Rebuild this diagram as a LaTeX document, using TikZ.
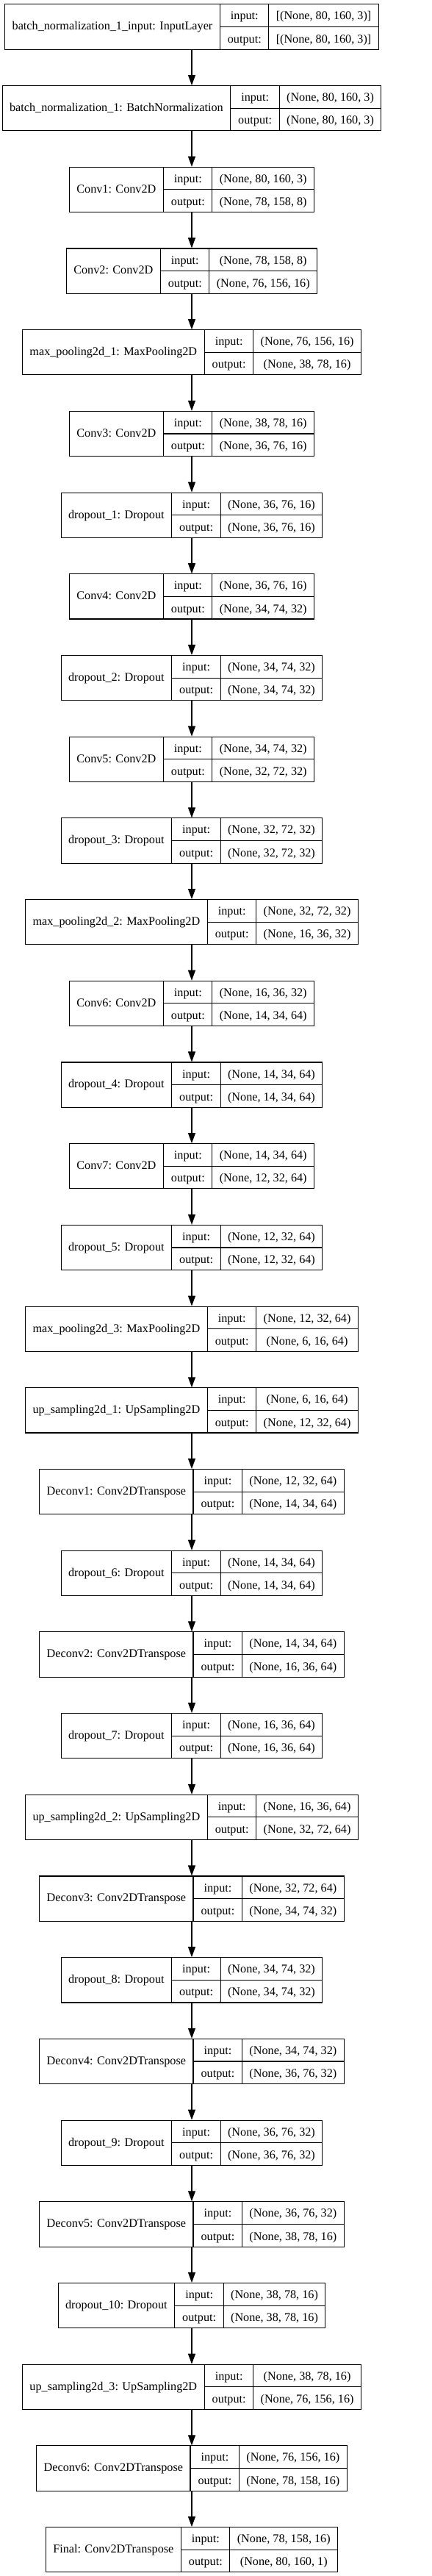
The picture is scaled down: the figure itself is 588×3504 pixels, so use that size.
\documentclass[tikz,border=0pt]{standalone}
\usepackage{fontspec}
\setmainfont{Liberation Serif}
\usetikzlibrary{arrows.meta}
\setlength{\tabcolsep}{10pt}
\setlength{\arrayrulewidth}{1.1pt}
\renewcommand{\arraystretch}{1.55}
% one keras layer: name | input/output | shapes
\newcommand{\layerrec}[3]{\begin{tabular}{c|@{}c@{}}#1 & \begin{tabular}{c|c}input: & #2\\\hline output: & #3\end{tabular}\end{tabular}}
\tikzset{
  rec/.style={draw, inner sep=0pt, line width=1.1pt, font=\fontsize{16.2}{19.4}\selectfont},
  flow/.style={-{Triangle[length=14pt,width=10pt]}, line width=1.1pt}
}
\begin{document}
\begin{tikzpicture}[x=1pt, y=-1pt]
      \useasboundingbox (0,0) rectangle (588,3504);

      \node[rec] (bninput) at (261, 36.5){\layerrec{batch\_normalization\_1\_input: InputLayer}{[(None, 80, 160, 3)]}{[(None, 80, 160, 3)]}};
      \node[rec] (bn) at (261, 147.2){\layerrec{batch\_normalization\_1: BatchNormalization}{(None, 80, 160, 3)}{(None, 80, 160, 3)}};
      \node[rec] (conv1) at (261, 257.9){\layerrec{Conv1: Conv2D}{(None, 80, 160, 3)}{(None, 78, 158, 8)}};
      \node[rec] (conv2) at (261, 368.6){\layerrec{Conv2: Conv2D}{(None, 78, 158, 8)}{(None, 76, 156, 16)}};
      \node[rec] (pool1) at (261, 479.3){\layerrec{max\_pooling2d\_1: MaxPooling2D}{(None, 76, 156, 16)}{(None, 38, 78, 16)}};
      \node[rec] (conv3) at (261, 590.0){\layerrec{Conv3: Conv2D}{(None, 38, 78, 16)}{(None, 36, 76, 16)}};
      \node[rec] (drop1) at (261, 700.7){\layerrec{dropout\_1: Dropout}{(None, 36, 76, 16)}{(None, 36, 76, 16)}};
      \node[rec] (conv4) at (261, 811.4){\layerrec{Conv4: Conv2D}{(None, 36, 76, 16)}{(None, 34, 74, 32)}};
      \node[rec] (drop2) at (261, 922.1){\layerrec{dropout\_2: Dropout}{(None, 34, 74, 32)}{(None, 34, 74, 32)}};
      \node[rec] (conv5) at (261, 1032.8){\layerrec{Conv5: Conv2D}{(None, 34, 74, 32)}{(None, 32, 72, 32)}};
      \node[rec] (drop3) at (261, 1143.5){\layerrec{dropout\_3: Dropout}{(None, 32, 72, 32)}{(None, 32, 72, 32)}};
      \node[rec] (pool2) at (261, 1254.2){\layerrec{max\_pooling2d\_2: MaxPooling2D}{(None, 32, 72, 32)}{(None, 16, 36, 32)}};
      \node[rec] (conv6) at (261, 1364.9){\layerrec{Conv6: Conv2D}{(None, 16, 36, 32)}{(None, 14, 34, 64)}};
      \node[rec] (drop4) at (261, 1475.6){\layerrec{dropout\_4: Dropout}{(None, 14, 34, 64)}{(None, 14, 34, 64)}};
      \node[rec] (conv7) at (261, 1586.3){\layerrec{Conv7: Conv2D}{(None, 14, 34, 64)}{(None, 12, 32, 64)}};
      \node[rec] (drop5) at (261, 1697.0){\layerrec{dropout\_5: Dropout}{(None, 12, 32, 64)}{(None, 12, 32, 64)}};
      \node[rec] (pool3) at (261, 1807.7){\layerrec{max\_pooling2d\_3: MaxPooling2D}{(None, 12, 32, 64)}{(None, 6, 16, 64)}};
      \node[rec] (up1) at (261, 1918.4){\layerrec{up\_sampling2d\_1: UpSampling2D}{(None, 6, 16, 64)}{(None, 12, 32, 64)}};
      \node[rec] (deconv1) at (261, 2029.1){\layerrec{Deconv1: Conv2DTranspose}{(None, 12, 32, 64)}{(None, 14, 34, 64)}};
      \node[rec] (drop6) at (261, 2139.8){\layerrec{dropout\_6: Dropout}{(None, 14, 34, 64)}{(None, 14, 34, 64)}};
      \node[rec] (deconv2) at (261, 2250.5){\layerrec{Deconv2: Conv2DTranspose}{(None, 14, 34, 64)}{(None, 16, 36, 64)}};
      \node[rec] (drop7) at (261, 2361.2){\layerrec{dropout\_7: Dropout}{(None, 16, 36, 64)}{(None, 16, 36, 64)}};
      \node[rec] (up2) at (261, 2471.9){\layerrec{up\_sampling2d\_2: UpSampling2D}{(None, 16, 36, 64)}{(None, 32, 72, 64)}};
      \node[rec] (deconv3) at (261, 2582.6){\layerrec{Deconv3: Conv2DTranspose}{(None, 32, 72, 64)}{(None, 34, 74, 32)}};
      \node[rec] (drop8) at (261, 2693.3){\layerrec{dropout\_8: Dropout}{(None, 34, 74, 32)}{(None, 34, 74, 32)}};
      \node[rec] (deconv4) at (261, 2804.0){\layerrec{Deconv4: Conv2DTranspose}{(None, 34, 74, 32)}{(None, 36, 76, 32)}};
      \node[rec] (drop9) at (261, 2914.7){\layerrec{dropout\_9: Dropout}{(None, 36, 76, 32)}{(None, 36, 76, 32)}};
      \node[rec] (deconv5) at (261, 3025.4){\layerrec{Deconv5: Conv2DTranspose}{(None, 36, 76, 32)}{(None, 38, 78, 16)}};
      \node[rec] (drop10) at (261, 3136.1){\layerrec{dropout\_10: Dropout}{(None, 38, 78, 16)}{(None, 38, 78, 16)}};
      \node[rec] (up3) at (261, 3246.8){\layerrec{up\_sampling2d\_3: UpSampling2D}{(None, 38, 78, 16)}{(None, 76, 156, 16)}};
      \node[rec] (deconv6) at (261, 3357.5){\layerrec{Deconv6: Conv2DTranspose}{(None, 76, 156, 16)}{(None, 78, 158, 16)}};
      \node[rec] (final) at (261, 3468.2){\layerrec{Final: Conv2DTranspose}{(None, 78, 158, 16)}{(None, 80, 160, 1)}};

      \draw[flow] (bninput) -- (bn);
      \draw[flow] (bn) -- (conv1);
      \draw[flow] (conv1) -- (conv2);
      \draw[flow] (conv2) -- (pool1);
      \draw[flow] (pool1) -- (conv3);
      \draw[flow] (conv3) -- (drop1);
      \draw[flow] (drop1) -- (conv4);
      \draw[flow] (conv4) -- (drop2);
      \draw[flow] (drop2) -- (conv5);
      \draw[flow] (conv5) -- (drop3);
      \draw[flow] (drop3) -- (pool2);
      \draw[flow] (pool2) -- (conv6);
      \draw[flow] (conv6) -- (drop4);
      \draw[flow] (drop4) -- (conv7);
      \draw[flow] (conv7) -- (drop5);
      \draw[flow] (drop5) -- (pool3);
      \draw[flow] (pool3) -- (up1);
      \draw[flow] (up1) -- (deconv1);
      \draw[flow] (deconv1) -- (drop6);
      \draw[flow] (drop6) -- (deconv2);
      \draw[flow] (deconv2) -- (drop7);
      \draw[flow] (drop7) -- (up2);
      \draw[flow] (up2) -- (deconv3);
      \draw[flow] (deconv3) -- (drop8);
      \draw[flow] (drop8) -- (deconv4);
      \draw[flow] (deconv4) -- (drop9);
      \draw[flow] (drop9) -- (deconv5);
      \draw[flow] (deconv5) -- (drop10);
      \draw[flow] (drop10) -- (up3);
      \draw[flow] (up3) -- (deconv6);
      \draw[flow] (deconv6) -- (final);

    \end{tikzpicture}
\end{document}
